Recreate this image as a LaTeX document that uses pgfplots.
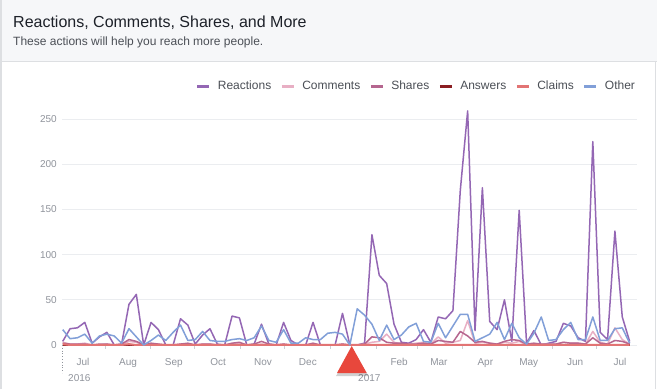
\documentclass[border=0pt]{standalone}
\usepackage{fontspec}
\setmainfont{Liberation Sans}
\usepackage{pgfplots}
\usepackage{pgfplotstable}
\pgfplotsset{compat=1.18}

\definecolor{creact}{HTML}{9467B4}
\definecolor{ccomm}{HTML}{E8AFC4}
\definecolor{cshare}{HTML}{B5668F}
\definecolor{cans}{HTML}{8B1E22}
\definecolor{cclaim}{HTML}{E27474}
\definecolor{cother}{HTML}{819FD8}
\definecolor{hdrbg}{HTML}{F6F7F9}
\definecolor{bordc}{HTML}{DDDFE2}
\definecolor{gridc}{HTML}{EBEDF0}
\definecolor{labgrey}{HTML}{90949C}
\definecolor{tickc}{HTML}{CCD0D5}
\definecolor{titlec}{HTML}{1D2129}
\definecolor{subc}{HTML}{4B4F56}
\definecolor{trired}{HTML}{E8473C}

\pgfplotstableread{
i react comm shares ans claims other
0 4 3 2 0 1 17
1 18 1 1 0 0 7
2 19 1 1 0 0 8
3 25 2 1 0 0 12
4 2 0 0 0 0 2
5 9 0 1 0 0 10
6 14 1 1 0 0 12
7 0 0 0 0 0 10
8 1 0 1 0 0 2
9 45 4 6 0 1 18
10 56 3 4 0 0 9
11 0 0 0 0 0 0
12 25 1 2 0 0 5
13 17 1 1 0 0 11
14 0 0 0 0 0 5
15 0 0 0 0 0 14
16 29 1 1 0 0 22
17 22 1 2 0 0 5
18 1 0 0 0 0 6
19 11 1 1 0 0 15
20 18 1 1 0 0 5
21 1 0 0 0 0 4
22 0 0 0 0 0 4
23 32 1 2 0 0 6
24 30 2 3 0 0 7
25 0 0 0 0 0 5
26 1 0 1 0 0 8
27 23 1 4 0 0 21
28 1 0 1 0 0 5
29 0 0 0 0 0 3
30 25 1 1 0 0 17
31 5 0 0 0 0 2
32 0 0 0 0 0 2
33 0 0 0 0 0 8
34 25 1 2 0 0 6
35 0 0 0 0 0 6
36 0 0 0 0 0 13
37 0 0 0 0 0 14
38 35 1 1 0 0 12
39 0 0 0 0 0 0
40 0 0 0 0 0 40
41 2 1 1 0 0 33
42 122 3 9 0 0 23
43 77 4 8 0 0 5
44 68 12 3 0 0 22
45 23 3 2 0 0 6
46 3 1 2 0 0 11
47 2 1 1 0 0 20
48 6 2 1 0 0 24
49 17 3 2 0 0 4
50 3 1 1 0 0 3
51 31 9 5 0 0 24
52 29 2 4 0 0 8
53 38 3 3 0 0 21
54 171 5 15 0 0 34
55 259 27 10 0 0 34
56 16 2 3 0 0 4
57 174 3 4 0 0 8
58 26 2 2 0 0 12
59 17 1 1 0 0 25
60 50 3 4 0 0 6
61 4 2 6 0 0 24
62 149 4 5 0 0 8
63 2 0 1 0 0 1
64 16 1 2 0 0 13
65 0 1 1 0 0 31
66 2 1 1 0 0 5
67 4 1 1 0 0 6
68 24 3 3 0 0 17
69 21 2 2 0 0 25
70 8 2 2 0 0 6
71 4 1 1 0 0 6
72 225 15 8 0 0 31
73 14 3 2 0 0 5
74 6 1 1 0 0 5
75 126 19 5 0 0 18
76 31 6 4 0 0 19
77 4 1 1 0 0 2
}\datatable

\begin{document}
\begin{tikzpicture}[x=1pt,y=1pt]
\useasboundingbox (0,0) rectangle (657,389);
\fill[white] (0,0) rectangle (657,389);
\fill[hdrbg] (0,327) rectangle (657,389);
\draw[bordc, line width=1pt] (0,327) -- (657,327);
\draw[bordc, line width=1.5pt] (0.75,0) -- (0.75,389);
\draw[bordc, line width=1pt] (655.5,0) -- (655.5,327);
\node[anchor=base west, inner sep=0pt, text=titlec, font=\fontsize{16}{19}\selectfont] at (13,361.7) {Reactions, Comments, Shares, and More};
\node[anchor=base west, inner sep=0pt, text=subc, font=\fontsize{12}{14}\selectfont] at (13,343.3) {These actions will help you reach more people.};

\begin{axis}[
  at={(62pt,44pt)}, anchor=south west,
  width=575pt, height=235pt, scale only axis,
  xmin=-0.095, xmax=78, ymin=0, ymax=260,
  clip=false,
  axis line style={draw=none},
  ymajorgrids, grid style={gridc, line width=0.8pt},
  ytick={0,50,100,150,200,250},
  ytick style={draw=none},
  xtick={2.76,8.87,15.1,21.1,27.2,33.3,45.7,51.1,57.4,63.3,69.6,75.7},
  xticklabels={Jul,Aug,Sep,Oct,Nov,Dec,Feb,Mar,Apr,May,Jun,Jul},
  minor xtick={5.74,11.94,17.94,24.14,30.14,36.34,42.54,48.14,54.34,60.34,66.54,72.54},
  major tick length=0pt, minor tick length=4pt,
  tick align=outside, xtick pos=bottom,
  xtick style={tickc, line width=0.8pt},
  /pgf/number format/assume math mode=true,
  xticklabel style={font=\fontsize{10}{12}\selectfont, text=labgrey, anchor=base, yshift=-20pt},
  yticklabel style={font=\fontsize{10}{12}\selectfont, text=labgrey, anchor=east, xshift=-1.7pt},
  legend columns=6,
  legend style={draw=none, fill=none, inner sep=0pt, outer sep=0pt,
    at={(0.9965,1.102)}, anchor=east,
    font=\fontsize{12}{14}\selectfont, text=subc,
    nodes={inner sep=0pt},
    /tikz/every odd column/.append style={column sep=7pt},
    /tikz/every even column/.append style={column sep=9pt}},
  legend image code/.code={\draw[#1, line width=3pt] (0pt,0pt) -- (12pt,0pt);},
  every axis plot/.append style={line width=1.5pt, line join=round, no marks},
]
\addplot[creact] table[x=i, y=react] {\datatable};
\addlegendentry{Reactions}
\addplot[ccomm] table[x=i, y=comm] {\datatable};
\addlegendentry{Comments}
\addplot[cshare] table[x=i, y=shares] {\datatable};
\addlegendentry{Shares}
\addplot[cans] table[x=i, y=ans] {\datatable};
\addlegendentry{Answers}
\addplot[cclaim, line width=2pt] table[x=i, y=claims] {\datatable};
\addlegendentry{Claims}
\addplot[cother] table[x=i, y=other] {\datatable};
\addlegendentry{Other}
\end{axis}

\draw[labgrey, dotted, line width=0.8pt] (62,44) -- (62,16);
\node[anchor=base west, inner sep=0pt, text=labgrey, font=\fontsize{10}{12}\selectfont] at (68,8) {2016};
\node[anchor=base west, inner sep=0pt, text=labgrey, font=\fontsize{10}{12}\selectfont] at (358,8) {2017};
\fill[black, opacity=0.18] (352.2,40) -- (368.5,13) -- (336,13) -- cycle;
\fill[trired] (351.7,43) -- (366.7,16) -- (337,16) -- cycle;
\end{tikzpicture}
\end{document}
